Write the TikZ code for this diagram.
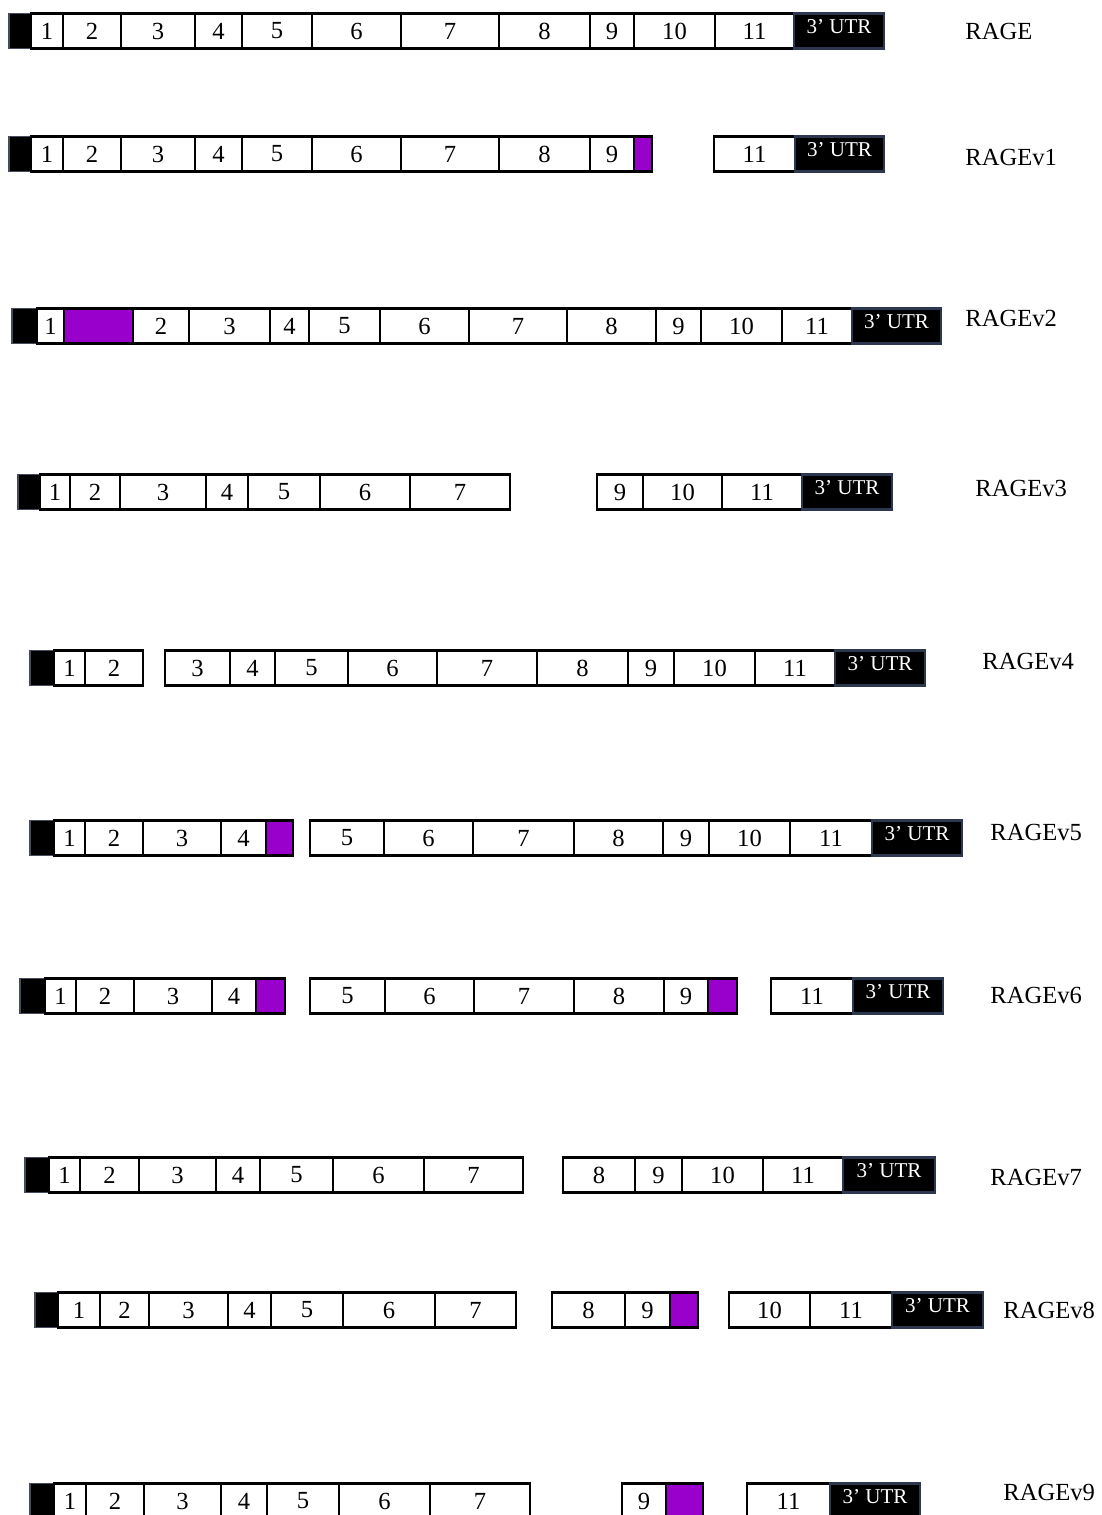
\documentclass[tikz,border=0pt]{standalone}
\usepackage{fontspec}
\setmainfont{Liberation Serif}
\usepackage{tikz}
\usetikzlibrary{positioning}

\definecolor{altPurple}{RGB}{153,0,204}
\definecolor{utrEdge}{RGB}{45,55,80}
\definecolor{capEdge}{RGB}{70,75,95}

\begin{document}
\begin{tikzpicture}[
        x=0.02cm, y=-0.02cm,
        exon/.style={
            rectangle, draw=black, line width=1.6pt, fill=white,
            minimum height=0.7cm, inner sep=0pt,
            font=\fontsize{14}{14}\selectfont
        },
        capBox/.style={
            rectangle, draw=capEdge, line width=1pt, fill=black,
            minimum height=0.7cm, inner sep=0pt
        },
        altBox/.style={
            rectangle, draw=black, line width=1.6pt, fill=altPurple,
            minimum height=0.7cm, inner sep=0pt
        },
        utrBox/.style={
            rectangle, draw=utrEdge, line width=1.6pt, fill=black, text=white,
            minimum height=0.7cm, inner sep=0pt, text depth=1.2ex,
            font=\fontsize{12}{12}\selectfont
        },
        varLabel/.style={
            anchor=west, inner sep=0pt, font=\fontsize{14}{14}\selectfont
        }
    ]
        \useasboundingbox (0,0) rectangle (1102,1515);

        % RAGE
        \foreach \k/\a/\b/\t [count=\i] in {capBox/9/31/{}, exon/31/63/1, exon/63/121/2, exon/121/195/3, exon/195/242/4, exon/242/312/5, exon/312/401/6, exon/401/499/7, exon/499/590/8, exon/590/634/9, exon/634/715/10, exon/715/794/11, utrBox/794/884/3’ UTR}
            \node[\k, minimum width={(\b-\a)*0.02cm}] (rage-\i) at ({(\a+\b)/2},31) {\t};
        \node[varLabel] (lab-rage) at (965,31) {RAGE};

        % RAGEv1
        \foreach \k/\a/\b/\t [count=\i] in {capBox/9/31/{}, exon/31/63/1, exon/63/121/2, exon/121/195/3, exon/195/242/4, exon/242/312/5, exon/312/401/6, exon/401/499/7, exon/499/590/8, exon/590/634/9, altBox/634/652/{}, exon/714/795/11, utrBox/795/884/3’ UTR}
            \node[\k, minimum width={(\b-\a)*0.02cm}] (v1-\i) at ({(\a+\b)/2},154) {\t};
        \node[varLabel] (lab-v1) at (965,157) {RAGEv1};

        % RAGEv2
        \foreach \k/\a/\b/\t [count=\i] in {capBox/12/37/{}, exon/37/64/1, altBox/64/133/{}, exon/133/189/2, exon/189/270/3, exon/270/309/4, exon/309/380/5, exon/380/469/6, exon/469/567/7, exon/567/656/8, exon/656/701/9, exon/701/782/10, exon/782/852/11, utrBox/852/941/3’ UTR}
            \node[\k, minimum width={(\b-\a)*0.02cm}] (v2-\i) at ({(\a+\b)/2},326) {\t};
        \node[varLabel] (lab-v2) at (965,318) {RAGEv2};

        % RAGEv3
        \foreach \k/\a/\b/\t [count=\i] in {capBox/18/40/{}, exon/40/70/1, exon/70/120/2, exon/120/206/3, exon/206/248/4, exon/248/320/5, exon/320/410/6, exon/410/510/7, exon/597/643/9, exon/643/722/10, exon/722/802/11, utrBox/802/892/3’ UTR}
            \node[\k, minimum width={(\b-\a)*0.02cm}] (v3-\i) at ({(\a+\b)/2},492) {\t};
        \node[varLabel] (lab-v3) at (975,488) {RAGEv3};

        % RAGEv4
        \foreach \k/\a/\b/\t [count=\i] in {capBox/30/54/{}, exon/54/85/1, exon/85/143/2, exon/165/230/3, exon/230/275/4, exon/275/348/5, exon/348/437/6, exon/437/537/7, exon/537/628/8, exon/628/674/9, exon/674/755/10, exon/755/835/11, utrBox/835/925/3’ UTR}
            \node[\k, minimum width={(\b-\a)*0.02cm}] (v4-\i) at ({(\a+\b)/2},668) {\t};
        \node[varLabel] (lab-v4) at (982,661) {RAGEv4};

        % RAGEv5
        \foreach \k/\a/\b/\t [count=\i] in {capBox/30/54/{}, exon/54/85/1, exon/85/143/2, exon/143/221/3, exon/221/266/4, altBox/266/293/{}, exon/310/384/5, exon/384/473/6, exon/473/574/7, exon/574/663/8, exon/663/709/9, exon/709/790/10, exon/790/872/11, utrBox/872/962/3’ UTR}
            \node[\k, minimum width={(\b-\a)*0.02cm}] (v5-\i) at ({(\a+\b)/2},838) {\t};
        \node[varLabel] (lab-v5) at (990,832) {RAGEv5};

        % RAGEv6
        \foreach \k/\a/\b/\t [count=\i] in {capBox/20/45/{}, exon/45/76/1, exon/76/134/2, exon/134/212/3, exon/212/256/4, altBox/256/285/{}, exon/310/385/5, exon/385/474/6, exon/474/574/7, exon/574/664/8, exon/664/708/9, altBox/708/737/{}, exon/771/853/11, utrBox/853/943/3’ UTR}
            \node[\k, minimum width={(\b-\a)*0.02cm}] (v6-\i) at ({(\a+\b)/2},996) {\t};
        \node[varLabel] (lab-v6) at (990,995) {RAGEv6};

        % RAGEv7
        \foreach \k/\a/\b/\t [count=\i] in {capBox/25/49/{}, exon/49/80/1, exon/80/139/2, exon/139/216/3, exon/216/260/4, exon/260/333/5, exon/333/424/6, exon/424/523/7, exon/563/635/8, exon/635/682/9, exon/682/763/10, exon/763/843/11, utrBox/843/935/3’ UTR}
            \node[\k, minimum width={(\b-\a)*0.02cm}] (v7-\i) at ({(\a+\b)/2},1175) {\t};
        \node[varLabel] (lab-v7) at (990,1177) {RAGEv7};

        % RAGEv8
        \foreach \k/\a/\b/\t [count=\i] in {capBox/35/58/{}, exon/58/100/1, exon/100/149/2, exon/149/228/3, exon/228/271/4, exon/271/343/5, exon/343/435/6, exon/435/516/7, exon/552/625/8, exon/625/670/9, altBox/670/698/{}, exon/729/810/10, exon/810/892/11, utrBox/892/983/3’ UTR}
            \node[\k, minimum width={(\b-\a)*0.02cm}] (v8-\i) at ({(\a+\b)/2},1310) {\t};
        \node[varLabel] (lab-v8) at (1003,1310) {RAGEv8};

        % RAGEv9
        \foreach \k/\a/\b/\t [count=\i] in {capBox/30/54/{}, exon/54/86/1, exon/86/144/2, exon/144/221/3, exon/221/267/4, exon/267/339/5, exon/339/430/6, exon/430/530/7, exon/622/666/9, altBox/666/703/{}, exon/747/830/11, utrBox/830/920/3’ UTR}
            \node[\k, minimum width={(\b-\a)*0.02cm}] (v9-\i) at ({(\a+\b)/2},1501) {\t};
        \node[varLabel] (lab-v9) at (1003,1492) {RAGEv9};
    \end{tikzpicture}
\end{document}
